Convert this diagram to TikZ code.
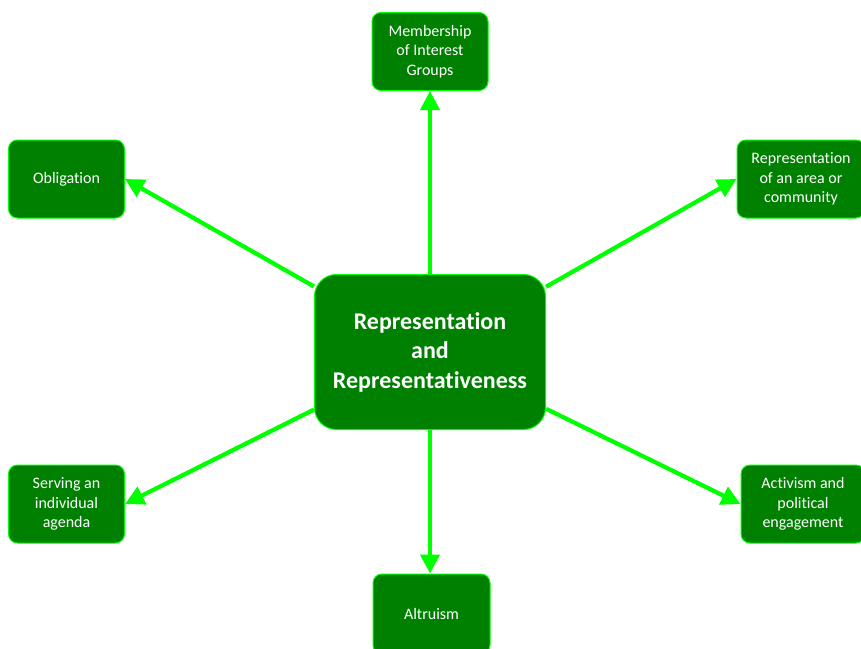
\documentclass[tikz,border=0pt]{standalone}
\usepackage{fontspec}
\setmainfont{Carlito}[Ligatures=NoCommon]
\usetikzlibrary{arrows.meta}
\definecolor{boxfill}{RGB}{0,128,0}
\definecolor{lime}{RGB}{0,255,0}
\begin{document}
\begin{tikzpicture}[x=1pt,y=-1pt,
  topic/.style={draw=lime, line width=1pt, fill=boxfill, rounded corners=9pt,
    text=white, align=center, font=\fontsize{16}{19.5}\selectfont,
    minimum width=116pt, minimum height=78pt, inner sep=2pt},
  hub/.style={draw=lime, line width=1pt, fill=boxfill, rounded corners=22pt,
    text=white, align=center, font=\fontsize{24}{29.5}\selectfont\bfseries,
    minimum width=231pt, minimum height=155pt},
  link/.style={draw=lime, line width=4.2pt,
    -{Triangle[length=19pt,width=19pt]}}]
\useasboundingbox (0,0) rectangle (861,648);
\fill[white] (0,0) rectangle (861,648);

\node[hub] (c) at (430,352) {Representation\\and\\Representativeness};

\node[topic] (mem) at (430,51.5) {Membership\\of Interest\\Groups};
\node[topic] (obl) at (66.5,179) {Obligation};
\node[topic, minimum width=128pt] (rep) at (801,179) {Representation\\of an area or\\community};
\node[topic] (ser) at (66.5,504) {Serving an\\individual\\agenda};
\node[topic, minimum width=124pt] (act) at (803,504) {Activism and\\political\\engagement};
\node[topic, minimum width=117pt, minimum height=80pt] (alt) at (431.5,614) {Altruism};

\draw[link] (c) -- (mem.south);
\draw[link] (c) -- (obl.east);
\draw[link] (c) -- (rep.west);
\draw[link] (c) -- (ser.east);
\draw[link] (c) -- (act.west);
\draw[link] (c.south) -- (c.south |- alt.north);
\end{tikzpicture}
\end{document}
